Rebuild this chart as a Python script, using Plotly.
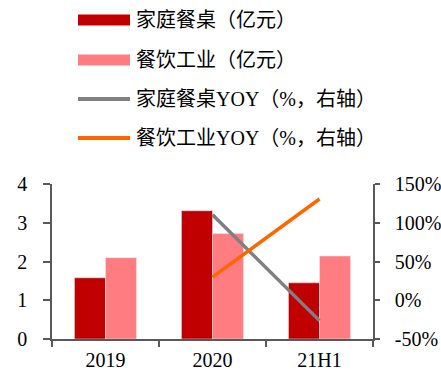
import plotly.graph_objects as go

categories = ["2019", "2020", "21H1"]
home_table = [1.58, 3.31, 1.45]          # 家庭餐桌（亿元）
catering = [2.10, 2.72, 2.14]            # 餐饮工业（亿元）
yoy_categories = ["2020", "21H1"]
home_yoy = [110.3, -26.3]                # 家庭餐桌YOY（%）
catering_yoy = [29.8, 130.6]             # 餐饮工业YOY（%）
left_ticks = [0, 1, 2, 3, 4]
right_ticks = [-50, 0, 50, 100, 150]
right_labels = ["-50%", "0%", "50%", "100%", "150%"]

names = ["家庭餐桌（亿元）", "餐饮工业（亿元）", "家庭餐桌YOY（%，右轴）", "餐饮工业YOY（%，右轴）"]
colors = ["#C00000", "#FF7C80", "#808080", "#FF6600"]

FONT = "Liberation Serif, Times New Roman, Noto Sans CJK SC, serif"
FS = 20
W, H = 441, 374
ML, MR, MT, MB = 52, 68, 184, 35
PW, PH = W - ML - MR, H - MT - MB

def px_x(x):
    return (x - ML) / PW

def px_y(y):
    return (H - MB - y) / PH

fig = go.Figure()
fig.add_trace(go.Bar(x=categories, y=home_table, marker_color=colors[0], name=names[0], showlegend=False))
fig.add_trace(go.Bar(x=categories, y=catering, marker_color=colors[1], name=names[1], showlegend=False))
fig.add_trace(go.Scatter(x=yoy_categories, y=home_yoy, mode="lines", line=dict(color=colors[2], width=3.5),
                         yaxis="y2", name=names[2], showlegend=False))
fig.add_trace(go.Scatter(x=yoy_categories, y=catering_yoy, mode="lines", line=dict(color=colors[3], width=3.5),
                         yaxis="y2", name=names[3], showlegend=False))

# custom legend
shapes = []
annotations = []
centers = [20, 60, 99, 138]
for i, (nm, c, cy) in enumerate(zip(names, colors, centers)):
    if i < 2:
        shapes.append(dict(type="rect", xref="paper", yref="paper",
                           x0=px_x(78), x1=px_x(130), y0=px_y(cy - 5.5), y1=px_y(cy + 5.5),
                           fillcolor=c, line=dict(width=0)))
    else:
        shapes.append(dict(type="line", xref="paper", yref="paper",
                           x0=px_x(78), x1=px_x(130), y0=px_y(cy), y1=px_y(cy),
                           line=dict(color=c, width=4)))
    annotations.append(dict(text=nm, xref="paper", yref="paper", x=px_x(134), y=px_y(cy),
                            xanchor="left", yanchor="middle", showarrow=False,
                            font=dict(size=FS, family=FONT, color="#000000")))

axis_col = "#595959"
fig.update_layout(
    width=W, height=H,
    margin=dict(l=ML, r=MR, t=MT, b=MB, autoexpand=False),
    paper_bgcolor="white", plot_bgcolor="white",
    barmode="group", bargap=0.42, bargroupgap=0,
    font=dict(family=FONT, size=FS, color="#000000"),
    xaxis=dict(categoryorder="array", categoryarray=categories, showline=True, linecolor=axis_col,
               linewidth=1.5, ticks="outside", tickson="boundaries", ticklen=6, tickcolor=axis_col,
               tickwidth=1.5, showgrid=False, tickfont=dict(size=FS, family=FONT), ticklabelstandoff=2,
               automargin=False),
    yaxis=dict(range=[0, 4], tickvals=left_ticks, showline=True, linecolor=axis_col, linewidth=1.5,
               ticks="outside", ticklen=7, tickcolor=axis_col, tickwidth=1.5, showgrid=False,
               zeroline=False, tickfont=dict(size=FS, family=FONT), ticklabelstandoff=12,
               automargin=False),
    yaxis2=dict(range=[-50, 150], tickvals=right_ticks, ticktext=right_labels, overlaying="y", side="right",
                showline=True, linecolor=axis_col, linewidth=1.5, ticks="outside", ticklen=5,
                tickcolor=axis_col, tickwidth=1.5, showgrid=False, zeroline=False,
                tickfont=dict(size=FS, family=FONT), ticklabelstandoff=11, automargin=False),
    shapes=shapes, annotations=annotations,
)

fig.write_html("out.html")
